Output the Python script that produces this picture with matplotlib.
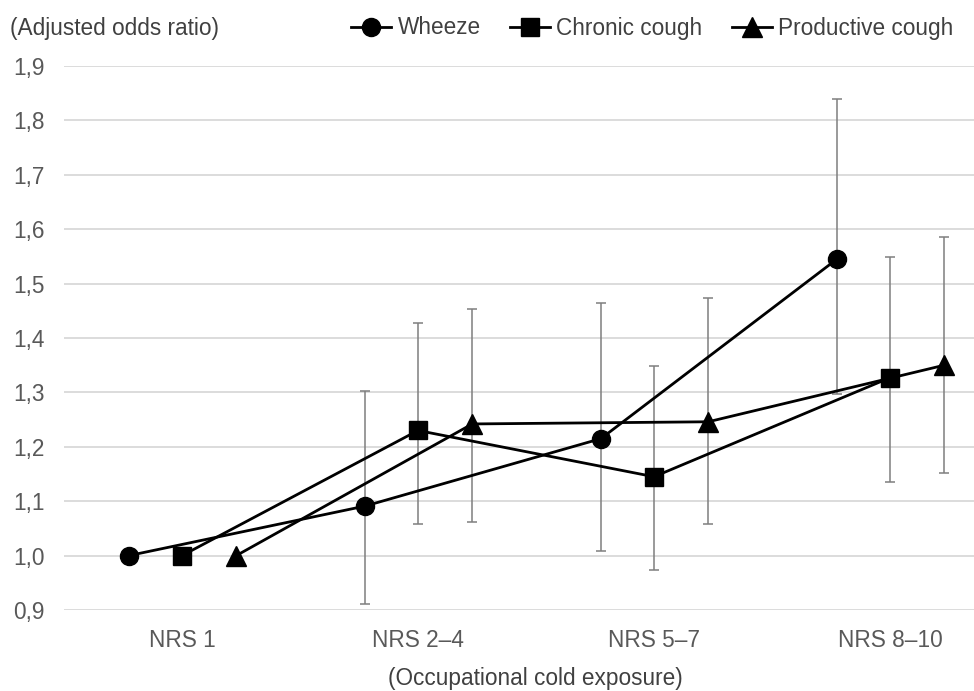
import numpy as np
import matplotlib
matplotlib.use("Agg")
import matplotlib.pyplot as plt

categories = ["NRS 1", "NRS 2\u20134", "NRS 5\u20137", "NRS 8\u201310"]
y_ticks = [0.9, 1.0, 1.1, 1.2, 1.3, 1.4, 1.5, 1.6, 1.7, 1.8, 1.9]
y_tick_labels = ["0,9", "1,0", "1,1", "1,2", "1,3", "1,4", "1,5", "1,6", "1,7", "1,8", "1,9"]

series_names = ["Wheeze", "Chronic cough", "Productive cough"]
wheeze = [1.0, 1.091, 1.215, 1.545]
wheeze_lo = [np.nan, 0.911, 1.008, 1.297]
wheeze_hi = [np.nan, 1.303, 1.464, 1.839]
chronic = [1.0, 1.230, 1.145, 1.327]
chronic_lo = [np.nan, 1.059, 0.974, 1.136]
chronic_hi = [np.nan, 1.428, 1.349, 1.548]
productive = [1.0, 1.242, 1.246, 1.350]
productive_lo = [np.nan, 1.062, 1.058, 1.152]
productive_hi = [np.nan, 1.453, 1.474, 1.585]

FONT = ["Liberation Sans", "DejaVu Sans"]
plt.rcParams["font.family"] = FONT
FS = 16.3

W, H = 974, 691
fig = plt.figure(figsize=(W / 100, H / 100), dpi=100)
left, right = 64, 64 + 944
bottom, top = 610, 66
ax = fig.add_axes([left / W, 1 - bottom / H, (right - left) / W, (bottom - top) / H])

x = np.arange(len(categories))
offsets = [-0.225, 0.0, 0.23]
markers = ["o", "s", "^"]
msizes = [13, 13, 15]
data = [(wheeze, wheeze_lo, wheeze_hi), (chronic, chronic_lo, chronic_hi),
        (productive, productive_lo, productive_hi)]

handles = []
for (vals, lo, hi), off, m, ms, name in zip(data, offsets, markers, msizes, series_names):
    vals = np.array(vals); lo = np.array(lo); hi = np.array(hi)
    xs = x + off
    mask = ~np.isnan(lo)
    ax.errorbar(xs[mask], vals[mask], yerr=[vals[mask] - lo[mask], hi[mask] - vals[mask]],
                fmt="none", ecolor="#7f7f7f", elinewidth=1.1, capsize=3.3, capthick=1.1, zorder=2)
    h, = ax.plot(xs, vals, color="black", lw=2.0, marker=m, ms=ms, mfc="black",
                 mec="black", zorder=3, label=name)
    handles.append(h)

ax.set_xlim(-0.5, 3.5)
ax.set_ylim(0.9, 1.9)
ax.set_yticks(y_ticks)
ax.set_yticklabels(y_tick_labels)
ax.set_xticks(x)
ax.set_xticklabels(categories)
ax.yaxis.grid(True, color="#d9d9d9", lw=1.3)
ax.set_axisbelow(True)
for s in ax.spines.values():
    s.set_visible(False)
ax.tick_params(axis="both", length=0, labelsize=FS, labelcolor="#595959")
ax.tick_params(axis="y", pad=14)
ax.tick_params(axis="x", pad=14)

fig.text(10 / W, 1 - 28 / H, "(Adjusted odds ratio)", fontsize=FS, color="#404040",
         ha="left", va="center")
fig.text(535 / W, 1 - 679 / H, "(Occupational cold exposure)", fontsize=FS, color="#404040",
         ha="center", va="center")

leg = fig.legend(handles=handles, loc="center left", bbox_to_anchor=(351 / W, 1 - 28 / H),
                 bbox_transform=fig.transFigure, ncol=3, frameon=False, fontsize=FS,
                 handlelength=1.75, handletextpad=0.3, columnspacing=1.3,
                 borderpad=0, borderaxespad=0)
for t in leg.get_texts():
    t.set_color("#404040")

fig.savefig("out.png", dpi=100)
